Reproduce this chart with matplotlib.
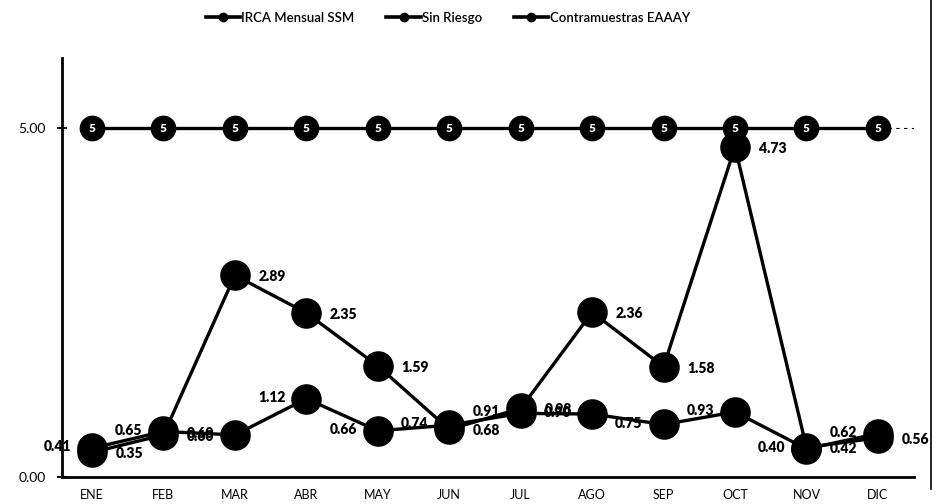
import matplotlib.pyplot as plt
from matplotlib.lines import Line2D

# Datos
meses = ['ENE', 'FEB', 'MAR', 'ABR', 'MAY', 'JUN', 'JUL', 'AGO', 'SEP', 'OCT', 'NOV', 'DIC']
irca_ssm = [0.35, 0.60, 2.89, 2.35, 1.59, 0.68, 0.98, 2.36, 1.58, 4.73, 0.42, 0.56]
sin_riesgo = [5, 5, 5, 5, 5, 5, 5, 5, 5, 5, 5, 5]
contramuestras = [0.41, 0.65, 0.60, 1.12, 0.66, 0.74, 0.91, 0.90, 0.75, 0.93, 0.40, 0.62]

plt.rcParams['font.family'] = ['Lato', 'DejaVu Sans']

fig = plt.figure(figsize=(9.39, 5.04), dpi=100)
ax = fig.add_axes([0.066, 0.054, 0.907, 0.83])

x = list(range(len(meses)))
estilo = dict(color='black', lw=2.4, marker='o', zorder=3)

ax.plot(x, contramuestras, markersize=21, **estilo)
ax.plot(x, irca_ssm, markersize=21, **estilo)
ax.plot(x, sin_riesgo, markersize=17.5, **estilo)

# Etiquetas de datos
for i, v in enumerate(irca_ssm):
    ax.annotate('{:.2f}'.format(v), (i, v), xytext=(17, -1), textcoords='offset points',
                ha='left', va='center', fontsize=10, fontweight='heavy', zorder=4)
for i, v in enumerate(contramuestras):
    ax.annotate('{:.2f}'.format(v), (i, v), xytext=(-15, 1), textcoords='offset points',
                ha='right', va='center', fontsize=10, fontweight='heavy', zorder=4)
for i, v in enumerate(sin_riesgo):
    ax.text(i, v, str(v), color='white', ha='center', va='center',
            fontsize=8.5, fontweight='heavy', zorder=5)

ax.set_xlim(-0.42, 11.5)
ax.set_ylim(0, 6)
ax.set_xticks(x)
ax.set_xticklabels(meses, fontsize=9)
ax.set_yticks([0, 5])
ax.set_yticklabels(['0.00', '5.00'], fontsize=10)
ax.tick_params(axis='x', length=0, pad=9)
ax.tick_params(axis='y', direction='inout', length=7, width=1.5, pad=8)

ax.axhline(5, xmin=0.97, xmax=1.0, color='black', lw=0.8, ls=(0, (3, 4)), zorder=1)

for lado in ['top', 'right']:
    ax.spines[lado].set_visible(False)
ax.spines['left'].set_linewidth(2)
ax.spines['bottom'].set_linewidth(2)

# Leyenda
handles = [Line2D([0], [0], color='black', lw=2.6, marker='o', markersize=6)
           for _ in range(3)]
fig.legend(handles, ['IRCA Mensual SSM', 'Sin Riesgo', 'Contramuestras EAAAY'],
           loc='upper center', bbox_to_anchor=(0.477, 1.0), ncol=3, frameon=False,
           prop={'size': 9.5, 'weight': 'semibold'}, handlelength=2.6,
           handletextpad=0.1, columnspacing=2.4)

# Borde derecho del escaneo
fig.add_artist(Line2D([0.992, 0.992], [0.03, 1.0], color='black', lw=1.2,
                      transform=fig.transFigure))

plt.savefig('out.png', dpi=100)
